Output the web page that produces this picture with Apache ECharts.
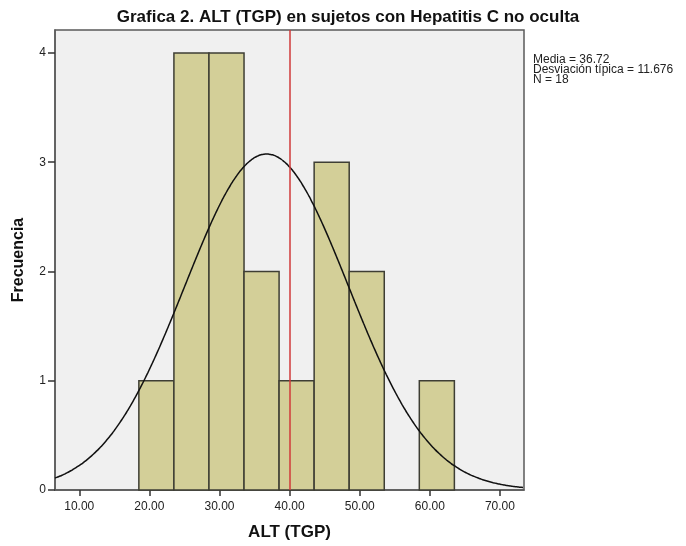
<!DOCTYPE html>
<html>
<head>
<meta charset="utf-8" />
<script src="https://cdn.jsdelivr.net/npm/echarts@6/dist/echarts.min.js"></script>
<title>ALT (TGP)</title>
<style type="text/css">
* {margin:0; padding:0;}
body { background:#ffffff; }
#chart { width:686px; height:546px; }
</style>
</head>
<body>
<div id="chart"></div>
<script>
// histogram bins (lower edge, width 5) and counts
var binStart = [18.5, 23.5, 28.5, 33.5, 38.5, 43.5, 48.5, 53.5, 58.5];
var binWidth = 5;
var counts = [1, 4, 4, 2, 1, 3, 2, 0, 1];
var xTicks = [10, 20, 30, 40, 50, 60, 70];
var yTicks = [0, 1, 2, 3, 4];
// statistics shown beside the chart
var media = 36.72;
var desv = 11.676;
var n = 18;
var refLine = 40;

var xMin = 6.54, xMax = 73.43, yMax = 4.21;

var bars = [];
for (var i = 0; i < binStart.length; i++) {
	if (counts[i] > 0) bars.push([binStart[i], binStart[i] + binWidth, counts[i]]);
}

// fitted normal curve from the stated mean, sd and N
var curve = [];
for (var x = xMin; x <= xMax + 0.001; x += 0.25) {
	var z = (x - media) / desv;
	curve.push([x, n * binWidth / (desv * Math.sqrt(2 * Math.PI)) * Math.exp(-z * z / 2)]);
}

var chart = echarts.init(document.getElementById('chart'));
chart.setOption({
	animation: false,
	title: {
		text: 'Grafica 2. ALT (TGP) en sujetos con Hepatitis C no oculta',
		left: 343, top: 4, textAlign: 'center',
		textStyle: {fontFamily: 'Liberation Sans', fontSize: 17, fontWeight: 'bold', color: '#111'}
	},
	grid: {
		left: 55, right: 162, top: 30, bottom: 55,
		show: true, backgroundColor: '#f0f0f0', borderColor: '#5a5a5a', borderWidth: 1.5
	},
	xAxis: {
		type: 'value', min: xMin, max: xMax,
		name: 'ALT (TGP)', nameLocation: 'middle', nameGap: 34,
		nameTextStyle: {fontFamily: 'Liberation Sans', fontSize: 17, fontWeight: 'bold', color: '#111'},
		axisLine: {show: true, lineStyle: {color: '#5a5a5a', width: 1.5}},
		axisTick: {show: true, customValues: xTicks, length: 6, lineStyle: {color: '#333', width: 1.5}},
		axisLabel: {customValues: xTicks, formatter: function (v) { return v.toFixed(2); },
			fontFamily: 'Liberation Sans', fontSize: 12, color: '#222', margin: 11},
		splitLine: {show: false}
	},
	yAxis: {
		type: 'value', min: 0, max: yMax,
		name: 'Frecuencia', nameLocation: 'middle', nameGap: 28,
		nameTextStyle: {fontFamily: 'Liberation Sans', fontSize: 16, fontWeight: 'bold', color: '#111'},
		axisLine: {show: true, lineStyle: {color: '#5a5a5a', width: 1.5}},
		axisTick: {show: true, customValues: yTicks, length: 7, lineStyle: {color: '#333', width: 1.5}},
		axisLabel: {customValues: yTicks, fontFamily: 'Liberation Sans', fontSize: 12, color: '#222', margin: 9},
		splitLine: {show: false}
	},
	graphic: [{
		type: 'text', left: 533, top: 54,
		style: {
			text: 'Media = ' + media.toFixed(2) + '\nDesviación típica = ' + desv.toFixed(3) + '\nN = ' + n,
			font: '12px "Liberation Sans"', fill: '#222', lineHeight: 10
		}
	}],
	series: [
		{
			type: 'custom',
			data: bars,
			renderItem: function (params, api) {
				var p0 = api.coord([api.value(0), 0]);
				var p1 = api.coord([api.value(1), api.value(2)]);
				return {
					type: 'rect',
					shape: {x: p0[0], y: p1[1], width: p1[0] - p0[0], height: p0[1] - p1[1]},
					style: {fill: '#d3cf98', stroke: '#3e3e34', lineWidth: 1.5}
				};
			},
			z: 2
		},
		{
			type: 'line',
			data: curve,
			symbol: 'none',
			smooth: true,
			lineStyle: {color: '#111', width: 1.5},
			z: 4,
			markLine: {
				silent: true, symbol: 'none',
				label: {show: false},
				lineStyle: {color: '#d03a3a', width: 1.5, type: 'solid', opacity: 1},
				data: [{xAxis: refLine}]
			}
		}
	]
});
</script>
</body>
</html>
